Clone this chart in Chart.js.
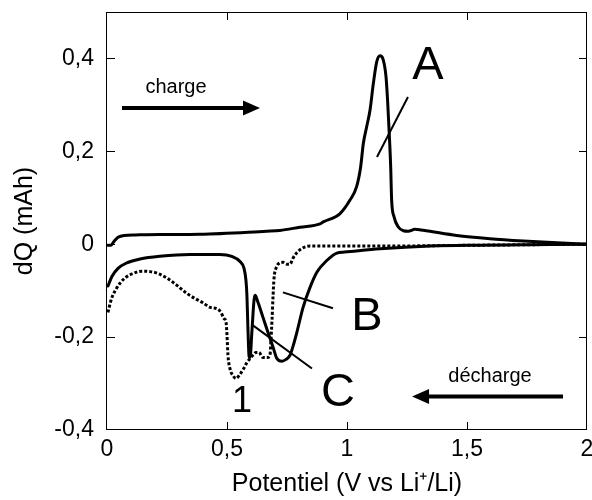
<!DOCTYPE html>
<html>
<head>
<meta charset="utf-8">
<script src="https://cdn.jsdelivr.net/npm/chart.js@4.4.1/dist/chart.umd.min.js"></script>
<style>
html, body { margin: 0; padding: 0; background: #ffffff; }
canvas { display: block; }
</style>
</head>
<body>
<canvas id="chart" width="592" height="500"></canvas>
<script>
// ---------- data ----------
const xTicks = [0, 0.5, 1, 1.5, 2];
const yTicks = [-0.4, -0.2, 0, 0.2, 0.4];

// charge curve (solid)
const chargeX = [0.004, 0.017, 0.029, 0.046, 0.071, 0.117, 0.22, 0.3875, 0.665, 0.72, 0.804, 0.8875, 0.901, 0.971, 1.0125, 1.04, 1.057, 1.068, 1.082, 1.096, 1.11, 1.124, 1.1375, 1.151, 1.1625, 1.169, 1.176, 1.182, 1.186, 1.196, 1.214, 1.235, 1.255, 1.283, 1.318, 1.457, 1.596, 1.735, 1.874, 2];
const chargeY = [-0.002, -0.002, 0.006, 0.015, 0.019, 0.020, 0.021, 0.0216, 0.028, 0.0295, 0.0367, 0.0438, 0.048, 0.066, 0.095, 0.124, 0.167, 0.217, 0.253, 0.289, 0.347, 0.393, 0.4056, 0.397, 0.361, 0.311, 0.239, 0.167, 0.095, 0.059, 0.037, 0.029, 0.028, 0.032, 0.030, 0.019, 0.012, 0.007, 0.003, 0];

// discharge curve (solid)
const dischargeX = [0.004, 0.021, 0.046, 0.079, 0.1375, 0.22, 0.346, 0.47, 0.52, 0.554, 0.571, 0.579, 0.583, 0.5875, 0.592, 0.596, 0.604, 0.6125, 0.617, 0.629, 0.65, 0.671, 0.692, 0.708, 0.729, 0.746, 0.7625, 0.775, 0.79, 0.817, 0.846, 0.875, 0.917, 0.958, 0.99, 1.1375, 1.346, 1.554, 2];
const dischargeY = [-0.09, -0.069, -0.052, -0.041, -0.032, -0.026, -0.022, -0.022, -0.026, -0.037, -0.052, -0.078, -0.11, -0.186, -0.242, -0.244, -0.186, -0.121, -0.11, -0.125, -0.1575, -0.19, -0.222, -0.246, -0.252, -0.248, -0.239, -0.22, -0.192, -0.136, -0.093, -0.06, -0.0345, -0.019, -0.017, -0.010, -0.004, -0.002, 0];

// first discharge curve (dotted)
const firstDischargeX = [0.004, 0.0125, 0.021, 0.0375, 0.054, 0.079, 0.108, 0.146, 0.18, 0.2125, 0.25, 0.29, 0.333, 0.367, 0.396, 0.43, 0.4625, 0.475, 0.4875, 0.496, 0.5, 0.504, 0.5125, 0.525, 0.5375, 0.554, 0.567, 0.583, 0.596, 0.608, 0.621, 0.633, 0.65, 0.667, 0.679, 0.683, 0.6875, 0.692, 0.696, 0.704, 0.717, 0.733, 0.75, 0.7625, 0.775, 0.79, 0.8125, 0.846, 1.1375, 1.554, 2];
const firstDischargeY = [-0.147, -0.129, -0.114, -0.097, -0.084, -0.071, -0.063, -0.058, -0.059, -0.063, -0.073, -0.088, -0.106, -0.117, -0.125, -0.136, -0.14, -0.147, -0.16, -0.168, -0.196, -0.239, -0.268, -0.283, -0.289, -0.28, -0.27, -0.255, -0.246, -0.239, -0.233, -0.233, -0.244, -0.244, -0.239, -0.207, -0.164, -0.11, -0.073, -0.052, -0.041, -0.039, -0.043, -0.043, -0.03, -0.019, -0.009, -0.004, -0.004, -0.002, 0];

// text
const peakLabels = ['A', 'B', 'C', '1'];
const arrowLabels = ['charge', 'décharge'];
const xTitle = 'Potentiel (V vs Li\u207A/Li)';
const yTitle = 'dQ (mAh)';

// ---------- annotation placement (data units) ----------
const labelPos = [[1.3375, 0.383], [1.083, -0.1575], [0.9625, -0.3215], [0.5625, -0.339]];
const leaderLines = [
  [[1.125, 0.1877], [1.254, 0.317]],
  [[0.733, -0.1036], [0.9417, -0.138]],
  [[0.608, -0.1748], [0.854, -0.2675]]
];
const arrowText = [[0.2875, 0.3247], [1.596, -0.2977]];
const arrows = [
  [[0.0625, 0.2934], [0.6375, 0.2934]],
  [[1.9, -0.328], [1.271, -0.328]]
];

const FONT = "'Liberation Sans', Arial, Helvetica, sans-serif";

function toPoints(xs, ys) { return xs.map((x, i) => ({ x: x, y: ys[i] })); }
function fmt(v) { return String(Math.round(v * 10) / 10).replace('.', ','); }

const overlay = {
  id: 'overlay',
  afterDatasetsDraw(chart) {
    const { ctx, chartArea: a, scales } = chart;
    const X = v => scales.x.getPixelForValue(v);
    const Y = v => scales.y.getPixelForValue(v);
    ctx.save();
    // frame
    ctx.strokeStyle = '#000';
    ctx.lineWidth = 1;
    ctx.strokeRect(a.left - 0.5, a.top + 0.5, a.right - a.left, a.bottom - a.top - 1);
    // inward ticks on all four sides
    ctx.beginPath();
    xTicks.forEach(v => {
      if (v <= scales.x.min || v >= scales.x.max) return;
      const px = Math.round(X(v)) + 0.5;
      ctx.moveTo(px, a.bottom); ctx.lineTo(px, a.bottom - 8);
      ctx.moveTo(px, a.top); ctx.lineTo(px, a.top + 8);
    });
    yTicks.forEach(v => {
      if (v <= scales.y.min || v >= scales.y.max) return;
      const py = Math.round(Y(v)) + 0.5;
      ctx.moveTo(a.left, py); ctx.lineTo(a.left + 8, py);
      ctx.moveTo(a.right, py); ctx.lineTo(a.right - 8, py);
    });
    ctx.stroke();

    // leader lines
    ctx.lineWidth = 2;
    ctx.lineCap = 'butt';
    leaderLines.forEach(l => {
      ctx.beginPath();
      ctx.moveTo(X(l[0][0]), Y(l[0][1]));
      ctx.lineTo(X(l[1][0]), Y(l[1][1]));
      ctx.stroke();
    });

    // arrows
    arrows.forEach(ar => {
      const x0 = X(ar[0][0]), y0 = Y(ar[0][1]);
      const x1 = X(ar[1][0]), y1 = Y(ar[1][1]);
      const dir = Math.sign(x1 - x0);
      const head = 17, half = 7.5;
      ctx.lineWidth = 4;
      ctx.beginPath();
      ctx.moveTo(x0, y0);
      ctx.lineTo(x1 - dir * head, y1);
      ctx.stroke();
      ctx.fillStyle = '#000';
      ctx.beginPath();
      ctx.moveTo(x1, y1);
      ctx.lineTo(x1 - dir * head, y1 - half);
      ctx.lineTo(x1 - dir * head, y1 + half);
      ctx.closePath();
      ctx.fill();
    });

    // arrow texts
    ctx.fillStyle = '#000';
    ctx.textAlign = 'center';
    ctx.textBaseline = 'alphabetic';
    ctx.font = '20px ' + FONT;
    arrowLabels.forEach((t, i) => ctx.fillText(t, X(arrowText[i][0]), Y(arrowText[i][1])));

    // peak labels
    ctx.textBaseline = 'middle';
    peakLabels.forEach((t, i) => {
      ctx.font = (t === '1' ? '36px ' : '47px ') + FONT;
      ctx.fillText(t, X(labelPos[i][0]), Y(labelPos[i][1]));
    });
    ctx.restore();
  }
};

const lineBase = {
  showLine: true,
  pointRadius: 0,
  pointHoverRadius: 0,
  borderColor: '#000000',
  backgroundColor: '#000000',
  borderWidth: 3,
  cubicInterpolationMode: 'monotone',
  fill: false
};

new Chart(document.getElementById('chart'), {
  type: 'scatter',
  data: {
    datasets: [
      Object.assign({}, lineBase, { label: 'charge', data: toPoints(chargeX, chargeY), borderCapStyle: 'round', borderJoinStyle: 'round' }),
      Object.assign({}, lineBase, { label: 'décharge', data: toPoints(dischargeX, dischargeY), borderCapStyle: 'round', borderJoinStyle: 'round' }),
      Object.assign({}, lineBase, { label: '1re décharge', data: toPoints(firstDischargeX, firstDischargeY), borderDash: [3, 2], borderCapStyle: 'butt', borderJoinStyle: 'round' })
    ]
  },
  options: {
    responsive: false,
    animation: false,
    events: [],
    layout: { padding: { top: 12, right: 5, left: 0, bottom: 0 } },
    plugins: { legend: { display: false }, tooltip: { enabled: false }, title: { display: false } },
    scales: {
      x: {
        type: 'linear',
        min: 0, max: 2,
        afterBuildTicks: s => { s.ticks = xTicks.map(v => ({ value: v })); },
        afterFit: s => { s.height = 70; s.paddingLeft = 0; s.paddingRight = 0; },
        grid: { display: false, drawTicks: false },
        border: { display: false },
        ticks: { color: '#000', padding: 6, maxRotation: 0, autoSkip: false, font: { family: FONT, size: 23 }, callback: v => fmt(v) },
        title: { display: true, text: xTitle, color: '#000', font: { family: FONT, size: 25 }, padding: { top: 0, bottom: 1 } }
      },
      y: {
        type: 'linear',
        min: -0.4, max: 0.5,
        afterBuildTicks: s => { s.ticks = yTicks.map(v => ({ value: v })); },
        afterFit: s => { s.width = 107; s.paddingTop = 0; s.paddingBottom = 0; },
        grid: { display: false, drawTicks: false },
        border: { display: false },
        ticks: { color: '#000', padding: 13, autoSkip: false, font: { family: FONT, size: 23 }, callback: v => fmt(v) },
        title: { display: true, text: yTitle, color: '#000', font: { family: FONT, size: 25 }, padding: { top: 10, bottom: 0 } }
      }
    }
  },
  plugins: [overlay]
});
</script>
</body>
</html>
